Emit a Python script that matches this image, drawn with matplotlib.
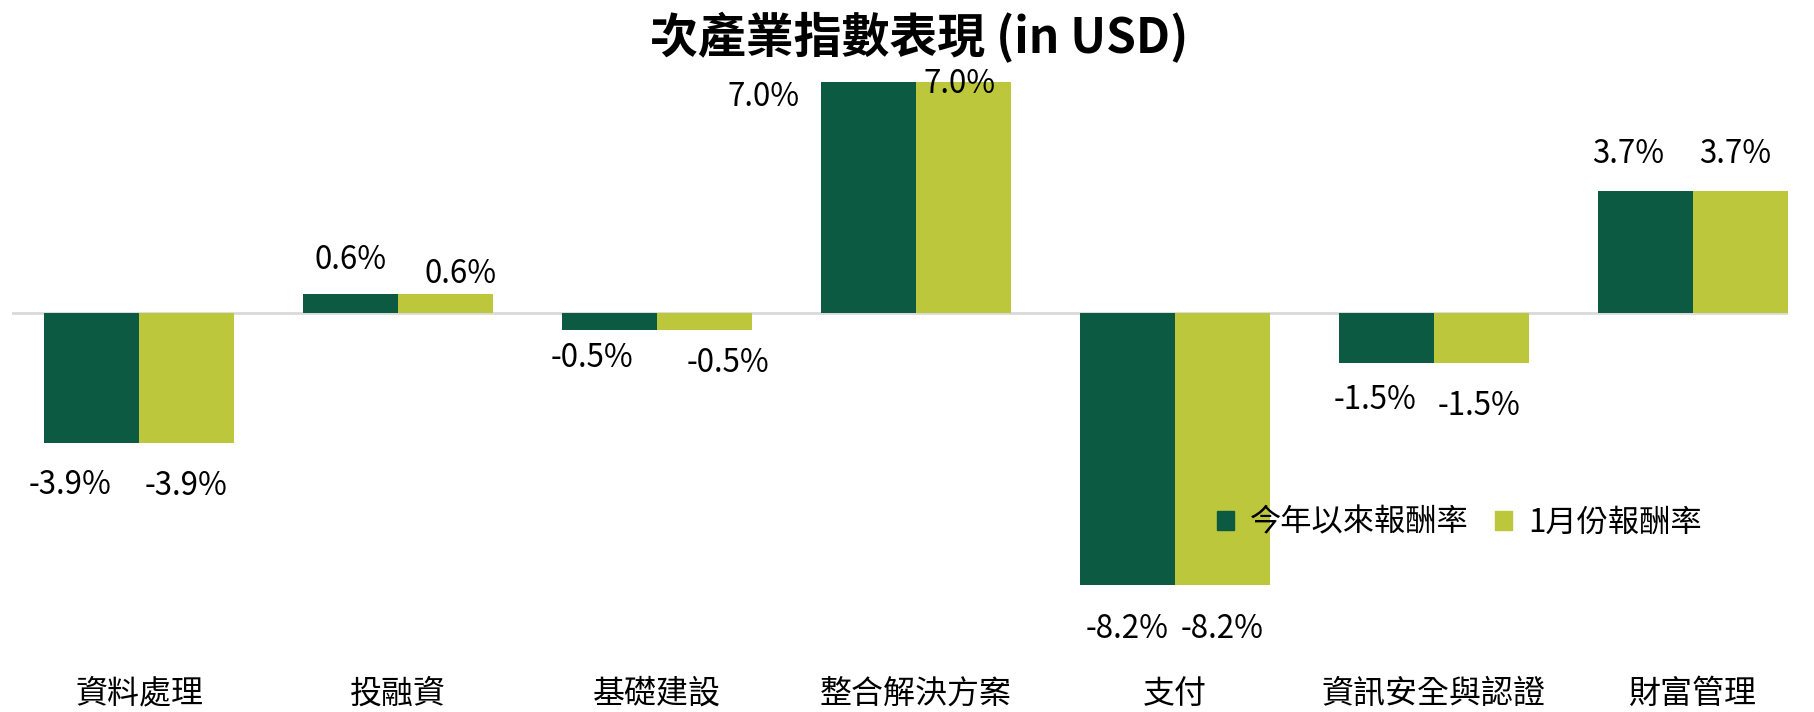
import numpy as np
import matplotlib.pyplot as plt
from matplotlib.patches import Patch

plt.rcParams["font.family"] = ["Noto Sans CJK TC", "DejaVu Sans"]

categories = ["資料處理", "投融資", "基礎建設", "整合解決方案", "支付", "資訊安全與認證", "財富管理"]
ytd_return = [-3.9, 0.6, -0.5, 7.0, -8.2, -1.5, 3.7]
jan_return = [-3.9, 0.6, -0.5, 7.0, -8.2, -1.5, 3.7]
series_names = ["今年以來報酬率", "1月份報酬率"]

DARK = "#0B5A41"
LIGHT = "#BDC73C"

# label nudges (pixels) relative to the bar end, mimicking the Excel layout
ytd_offsets = [(-21, 42), (0, -34), (-17, 28), (-105, 15), (0, 44), (-11, 37), (-17, -37)]
jan_offsets = [(0, 43), (15, -20), (23, 33), (-4, 2), (0, 44), (-2, 43), (-5, -37)]

fig = plt.figure(figsize=(18.14, 7.12), dpi=100)
ax = fig.add_axes([11.6 / 1814, 67.5 / 712, 1776.4 / 1814, 596 / 712])

x = np.arange(len(categories))
w = 0.367
bars_ytd = ax.bar(x - w / 2, ytd_return, w, color=DARK, label=series_names[0])
bars_jan = ax.bar(x + w / 2, jan_return, w, color=LIGHT, label=series_names[1])

ax.axhline(0, color="#D9D9D9", linewidth=2, zorder=0)
ax.set_xlim(-0.492, 6.367)
ax.set_ylim(-10, 8)

for bars, vals, offs in [(bars_ytd, ytd_return, ytd_offsets), (bars_jan, jan_return, jan_offsets)]:
    for b, v, (dx, dy) in zip(bars, vals, offs):
        cx = b.get_x() + b.get_width() / 2
        ax.annotate(f"{v:.1f}%", xy=(cx, v), xytext=(dx, -dy),
                    textcoords="offset pixels", ha="center", va="center",
                    fontsize=22.5, color="black")

ax.set_xticks(x)
ax.set_xticklabels(categories, fontsize=23)
ax.tick_params(axis="x", length=0, pad=24)
ax.set_yticks([])
for s in ax.spines.values():
    s.set_visible(False)

handles = [Patch(color=DARK), Patch(color=LIGHT)]
fig.legend(handles, series_names, loc="center left",
           bbox_to_anchor=(1217 / 1814, 1 - 522.5 / 712), ncol=2, frameon=False,
           fontsize=22.5, handlelength=0.55, handleheight=0.55, handletextpad=0.5,
           columnspacing=0.85, borderpad=0, borderaxespad=0)

fig.text(0.5065, 1 - 38 / 712, "次產業指數表現 (in USD)", ha="center", va="center",
         fontsize=34.5, fontweight="bold")

plt.savefig("out.png", dpi=100)
